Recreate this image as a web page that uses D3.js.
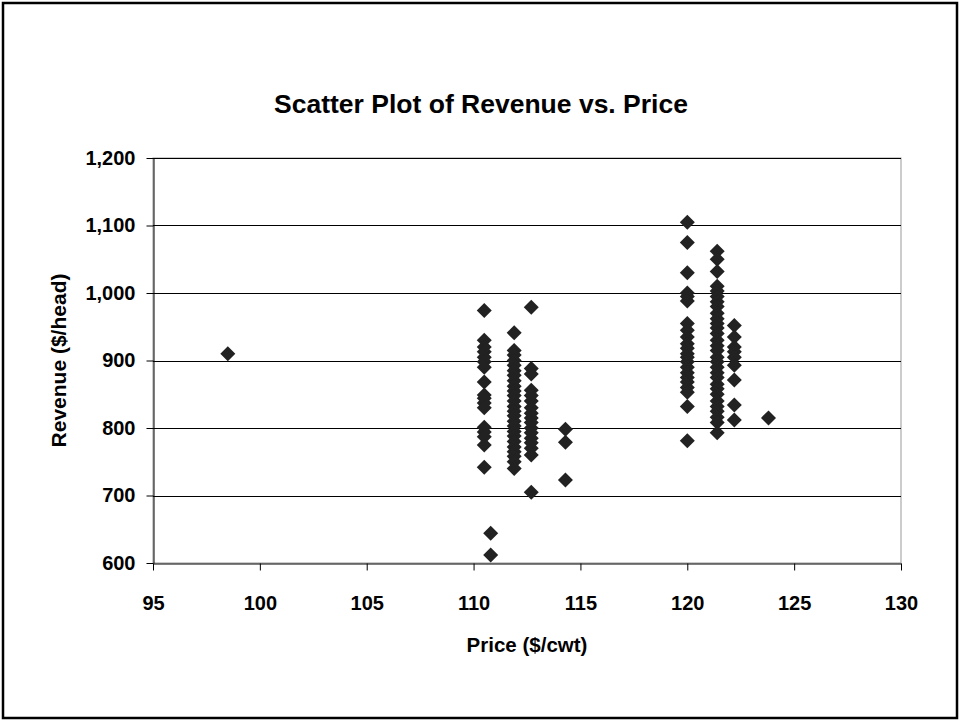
<!DOCTYPE html>
<meta charset="utf-8">
<style>
body { margin: 0; background: #fff; }
text { font-family: "Liberation Sans", Arial, sans-serif; font-weight: bold; fill: #000; }
.grid line { stroke: #000; stroke-width: 1; }
.axis path, .axis line { stroke: #000; }
</style>
<svg id="chart" width="960" height="721"></svg>
<script src="https://d3js.org/d3.v7.min.js"></script>
<script>

// price ($/cwt) of each vertical cluster, and revenue ($/head) of the points in it
var groupPrices = [98.5, 110.5, 110.8, 111.9, 112.7, 114.3, 120.0, 121.4, 122.2, 123.8];
var rev98 = [910];
var rev110a = [974, 930, 920, 913, 905, 898, 890, 868, 849, 844, 837, 830, 801, 794, 787, 775, 742];
var rev110b = [644, 612];
var rev111 = [941, 915, 908, 900, 893, 885, 878, 870, 862, 855, 848, 840, 832, 825, 818, 810, 803, 795, 788, 780, 772, 765, 758, 750, 740];
var rev112 = [979, 888, 880, 856, 848, 840, 830, 822, 815, 808, 800, 793, 785, 778, 770, 760, 705];
var rev114 = [798, 779, 723];
var rev120 = [1105, 1075, 1030, 1000, 995, 988, 955, 945, 935, 925, 918, 910, 905, 898, 890, 882, 875, 868, 860, 853, 832, 781];
var rev121 = [1062, 1050, 1032, 1010, 1003, 995, 987, 980, 970, 962, 955, 948, 940, 930, 922, 915, 905, 898, 890, 882, 875, 865, 858, 850, 840, 832, 825, 816, 808, 793];
var rev122 = [952, 935, 920, 913, 905, 893, 871, 834, 812];
var rev123 = [815];
var groupRevenues = [rev98, rev110a, rev110b, rev111, rev112, rev114, rev120, rev121, rev122, rev123];

var xTicks = [95, 100, 105, 110, 115, 120, 125, 130];
var yTicks = [600, 700, 800, 900, 1000, 1100, 1200];

var data = [];
groupPrices.forEach(function(p, i) {
  groupRevenues[i].forEach(function(r) { data.push({price: p, revenue: r}); });
});

var svg = d3.select("svg");

// outer frame
svg.append("rect")
    .attr("x", 3).attr("y", 3)
    .attr("width", 954).attr("height", 715)
    .attr("fill", "#fff")
    .attr("stroke", "#000")
    .attr("stroke-width", 2.5);

var margin = {top: 158, left: 153},
    width = 748,
    height = 405;

var x = d3.scaleLinear().domain([95, 130]).range([0, width]),
    y = d3.scaleLinear().domain([600, 1200]).range([height, 0]);

var g = svg.append("g")
    .attr("transform", "translate(" + margin.left + "," + margin.top + ")");

// plot border
g.append("rect")
    .attr("width", width).attr("height", height)
    .attr("fill", "none")
    .attr("stroke", "#999");

g.append("g")
    .attr("class", "grid")
  .selectAll("line")
  .data(yTicks.slice(1))
  .enter().append("line")
    .attr("x1", 0).attr("x2", width)
    .attr("y1", function(d) { return Math.round(y(d)) + 0.5; })
    .attr("y2", function(d) { return Math.round(y(d)) + 0.5; });

g.append("g")
    .attr("class", "axis")
    .attr("transform", "translate(0," + (height + 0.5) + ")")
    .call(d3.axisBottom(x).tickValues(xTicks).tickSizeInner(7).tickSizeOuter(0).tickPadding(25))
    .call(function(a) { a.selectAll("line").attr("stroke", "#777"); })
    .selectAll("text").style("font-size", "20px");

g.append("g")
    .attr("class", "axis")
    .attr("transform", "translate(0.5,0)")
    .call(d3.axisLeft(y).tickValues(yTicks).tickFormat(d3.format(",")).tickSizeInner(7).tickSizeOuter(0).tickPadding(11))
    .call(function(a) { a.select(".domain").attr("stroke", "#777"); })
    .selectAll("text").style("font-size", "20px");

var diamond = "M0,-7.5L7.5,0L0,7.5L-7.5,0Z";

g.selectAll(".pt")
  .data(data)
  .enter().append("path")
    .attr("class", "pt")
    .attr("d", diamond)
    .attr("fill", "#222")
    .attr("transform", function(d) { return "translate(" + x(d.price) + "," + y(d.revenue) + ")"; });

svg.append("text")
    .attr("x", 481).attr("y", 113)
    .attr("text-anchor", "middle")
    .style("font-size", "26.5px")
    .text("Scatter Plot of Revenue vs. Price");

svg.append("text")
    .attr("x", margin.left + width / 2).attr("y", 652)
    .attr("text-anchor", "middle")
    .style("font-size", "20.5px")
    .text("Price ($/cwt)");

svg.append("text")
    .attr("transform", "translate(66," + (margin.top + height / 2) + ") rotate(-90)")
    .attr("text-anchor", "middle")
    .style("font-size", "21px")
    .text("Revenue ($/head)");

</script>
